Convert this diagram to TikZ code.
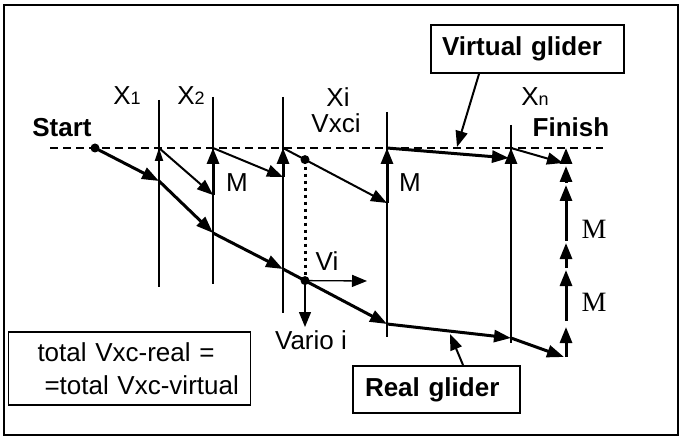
\documentclass[tikz,border=0pt]{standalone}
\usepackage{fontspec}
\setmainfont{Liberation Sans}
\newfontfamily\timesfont{Liberation Serif}
\usepackage{tikz}
\usetikzlibrary{arrows.meta,calc}
\newcommand{\xsub}[1]{{\fontsize{18}{20}\selectfont #1}}
\tikzset{
  lab/.style={font=\fontsize{26}{30}\selectfont,inner sep=0pt},
  boldlab/.style={font=\fontsize{26}{30}\selectfont\bfseries,inner sep=0pt},
  serlab/.style={font=\fontsize{28}{30}\selectfont\timesfont,inner sep=0pt},
  gridline/.style={line width=1.2pt},
  courseline/.style={dash pattern=on 8pt off 5pt,line width=1.3pt},
  realflow/.style={-{Triangle[length=17pt,width=12pt]},line width=3pt},
  virtflow/.style={-{Triangle[length=16pt,width=12pt]},line width=2pt},
  climbflow/.style={-{Triangle[length=16pt,width=12pt]},line width=3pt},
  thinclimb/.style={-{Triangle[length=13pt,width=8pt]},line width=2pt},
  thinflow/.style={-{Triangle[length=15pt,width=12pt]},line width=1.3pt},
  callbox/.style={draw,line width=2pt,font=\fontsize{26}{30}\selectfont\bfseries,
    align=left,inner ysep=0pt},
  dot/.style={circle,fill,inner sep=0pt,minimum size=9pt}
}

\begin{document}
\begin{tikzpicture}[x=1pt,y=-1pt]
  \useasboundingbox (0,0) rectangle (682,438);
  \draw[line width=2.5pt] (4,5) rectangle (678,435);
  % course line
  \coordinate (cl) at (50,148);
  \coordinate (cr) at (603,148);
  \draw[courseline] (cl) -- (cr);
  % turnpoint lines
  \foreach \name/\x/\top/\bot in {xa/159/100/287, xb/213/97/284, xc/283/97/313, xi/387/112/337, xn/511/125/343}{
    \coordinate (\name t) at (\x,\top);
    \coordinate (\name b) at (\x,\bot);
    \draw[gridline] (\name t) -- (\name b);
  }
  % labels
  \node[boldlab] (start) at (62,128) {Start};
  \node[boldlab] (finish) at (571,127) {Finish};
  \node[lab] (lx1) at (127,96) {X\xsub{1}};
  \node[lab] (lx2) at (191,96) {X\xsub{2}};
  \node[lab] (lxi) at (338,97) {Xi};
  \node[lab] (lvxc) at (336,123) {Vxci};
  \node[lab] (lxn) at (535,97) {X\xsub{n}};
  \node[lab] (m1) at (237,183) {M};
  \node[lab] (m2) at (410,183) {M};
  \node[serlab] (m3) at (594,229) {M};
  \node[serlab] (m4) at (594,302) {M};
  \node[lab] (lvi) at (327,261) {Vi};
  \node[lab] (lvario) at (311,340) {Vario i};
  % real glider
  \coordinate (r0) at (95,148);
  \coordinate (r1) at (159,181);
  \coordinate (r2) at (213,233);
  \coordinate (r3) at (283,269);
  \coordinate (rv) at (305,280.6);
  \coordinate (r4) at (387,324);
  \coordinate (r5) at (511,338);
  \coordinate (r6) at (564,357);
  \foreach \a/\b in {r0/r1, r1/r2, r2/r3, r3/r4, r4/r5, r5/r6}
    \draw[realflow] (\a) -- (\b);
  % virtual glider
  \coordinate (v1) at (159,148);
  \coordinate (a2) at (213,195);
  \coordinate (v2) at (213,148);
  \coordinate (a3) at (283,177);
  \coordinate (v3) at (283,148);
  \coordinate (vx) at (305,159.6);
  \coordinate (a4) at (387,203);
  \coordinate (v4) at (387,148);
  \coordinate (a5) at (509,158);
  \coordinate (a5b) at (511,161);
  \coordinate (v5) at (511,148);
  \coordinate (a6) at (563,163);
  \coordinate (a6b) at (566,164);
  \coordinate (fin) at (566,148);
  \draw[thinclimb] (r1) -- (v1);
  \draw[virtflow] (v1) -- (a2);
  \draw[climbflow] (a2) -- (v2);
  \draw[virtflow] (v2) -- (a3);
  \draw[climbflow] (a3) -- (v3);
  \draw[line width=2pt] (v3) -- (vx);
  \draw[virtflow] (vx) -- (a4);
  \draw[climbflow] (a4) -- (v4);
  \draw[realflow] (v4) -- (a5);
  \draw[climbflow] (a5b) -- (v5);
  \draw[virtflow] (v5) -- (a6);
  \draw[climbflow] (a6b) -- (fin);
  % climbs at the finish
  \foreach \i/\lo/\hi in {1/357/327, 2/321/270, 3/268/243, 4/241/185, 5/183/166}{
    \coordinate (c\i) at (566,\lo);
    \coordinate (d\i) at (566,\hi);
    \draw[climbflow] (c\i) -- (d\i);
  }
  % vario and speed
  \draw[line width=3pt,dash pattern=on 3pt off 4pt] (vx) -- (rv);
  \coordinate (vi) at (367,281);
  \coordinate (vario) at (305,327);
  \draw[thinflow] (rv) -- (vi);
  \draw[thinflow] (rv) -- (vario);
  \node[dot] (sdot) at (r0) {};
  \node[dot] (vxdot) at (vx) {};
  \node[dot] (rvdot) at (rv) {};
  % callouts
  \node[callbox,inner xsep=11pt,text width=171pt,minimum height=48pt] (vbox) at (527.5,49) {Virtual glider};
  \node[callbox,inner xsep=12pt,text width=143pt,minimum height=47pt] (rbox) at (436.5,389.5) {Real glider};
  \coordinate (vtip) at (457,147);
  \coordinate (rtip) at (450,334);
  \draw[virtflow] ([xshift=-48.5pt]vbox.south) -- (vtip);
  \draw[virtflow] ([xshift=26.5pt]rbox.north) -- (rtip);
  \node[draw,line width=1.8pt,lab,align=left,text width=222pt,inner xsep=10pt,
    minimum height=73pt,font=\fontsize{26}{33}\selectfont] (total) at (129.5,368.5)
    {\hspace*{19pt}total Vxc-real =\\\hspace*{26pt}=total Vxc-virtual};
\end{tikzpicture}
\end{document}
